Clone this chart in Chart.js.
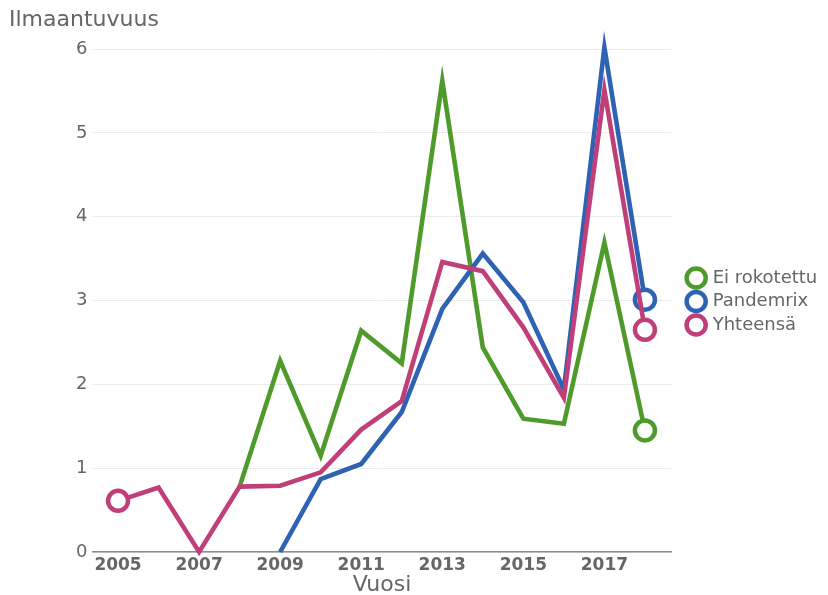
<!DOCTYPE html>
<html>
<head>
<meta charset="utf-8">
<script src="https://cdn.jsdelivr.net/npm/chart.js@4/dist/chart.umd.min.js"></script>
<style>
  html, body { margin: 0; padding: 0; background: #ffffff; }
  #wrap { width: 828px; height: 595px; position: relative; }
</style>
</head>
<body>
<div id="wrap"><canvas id="c" width="828" height="595"></canvas></div>
<script>
// ---- data ----
const years = [2005, 2006, 2007, 2008, 2009, 2010, 2011, 2012, 2013, 2014, 2015, 2016, 2017, 2018];
const xTickLabels = [2005, 2007, 2009, 2011, 2013, 2015, 2017];
const yTickLabels = [0, 1, 2, 3, 4, 5, 6];
const seriesNames = ['Ei rokotettu', 'Pandemrix', 'Yhteensä'];
const eiRokotettu = [null, null, null, 0.78, 2.28, 1.15, 2.64, 2.25, 5.62, 2.44, 1.59, 1.53, 3.69, 1.45];
const pandemrix   = [null, null, null, null, 0.00, 0.87, 1.05, 1.67, 2.90, 3.56, 2.98, 1.94, 6.02, 3.01];
const yhteensa    = [0.61, 0.77, 0.00, 0.78, 0.79, 0.95, 1.46, 1.80, 3.46, 3.35, 2.68, 1.84, 5.51, 2.65];
const yAxisTitle = 'Ilmaantuvuus';
const xAxisTitle = 'Vuosi';

const GREEN = '#4e9b2c';
const BLUE = '#2e62b2';
const PINK = '#c03f79';
const TEXT = '#666666';
const FONT = "'DejaVu Sans', sans-serif";

function toPoints(vals) {
  return years.map((yr, i) => ({ x: yr, y: vals[i] }));
}
function lastIndex(vals) {
  let k = -1;
  vals.forEach((v, i) => { if (v !== null) k = i; });
  return k;
}
function markerRadius(vals, withFirst) {
  const last = lastIndex(vals);
  return ctx => (ctx.dataIndex === last || (withFirst && ctx.dataIndex === 0)) ? 10 : 0;
}
function makeDataset(label, vals, color, order, withFirst) {
  return {
    label: label,
    data: toPoints(vals),
    borderColor: color,
    backgroundColor: '#ffffff',
    borderWidth: 4.6,
    pointRadius: markerRadius(vals, withFirst),
    pointHoverRadius: markerRadius(vals, withFirst),
    pointBackgroundColor: '#ffffff',
    pointBorderColor: color,
    pointBorderWidth: 4.5,
    pointStyle: 'circle',
    tension: 0,
    spanGaps: false,
    clip: false,
    order: order
  };
}

new Chart(document.getElementById('c'), {
  type: 'line',
  data: {
    datasets: [
      makeDataset(seriesNames[0], eiRokotettu, GREEN, 2, false),
      makeDataset(seriesNames[1], pandemrix, BLUE, 1, false),
      makeDataset(seriesNames[2], yhteensa, PINK, 0, true)
    ]
  },
  options: {
    responsive: false,
    animation: false,
    events: [],
    layout: { padding: { left: 9, right: 10, top: 0, bottom: 0 } },
    plugins: {
      tooltip: { enabled: false },
      title: {
        display: true,
        text: yAxisTitle,
        align: 'start',
        color: TEXT,
        font: { family: FONT, size: 22, weight: 'normal', lineHeight: 1 },
        padding: { top: 9, bottom: 18 }
      },
      legend: {
        position: 'right',
        align: 'center',
        title: {
          display: true,
          text: ' ',
          padding: 0,
          font: { family: FONT, size: 8, lineHeight: 1 }
        },
        labels: {
          usePointStyle: true,
          boxWidth: 15,
          boxHeight: 13.5,
          padding: 5.5,
          color: TEXT,
          font: { family: FONT, size: 18, lineHeight: 1 },
          sort: (a, b) => a.datasetIndex - b.datasetIndex
        }
      }
    },
    scales: {
      x: {
        type: 'linear',
        position: 'bottom',
        min: 2004.37,
        max: 2018.66,
        afterBuildTicks: s => { s.ticks = xTickLabels.map(v => ({ value: v })); },
        grid: { display: false, drawTicks: false },
        border: { display: true, color: '#8c8c8c', width: 1.5 },
        ticks: {
          color: TEXT,
          padding: 5,
          maxRotation: 0,
          autoSkip: false,
          font: { family: FONT, size: 17, weight: 'bold', lineHeight: 1 },
          callback: v => String(v)
        },
        title: {
          display: true,
          text: xAxisTitle,
          color: TEXT,
          font: { family: FONT, size: 22, lineHeight: 1 },
          padding: { top: -4.5, bottom: -1.5 }
        }
      },
      y: {
        type: 'linear',
        position: 'left',
        min: 0,
        max: 6,
        afterBuildTicks: s => { s.ticks = yTickLabels.map(v => ({ value: v })); },
        afterFit: s => { s.width = 83.5; },
        grid: { color: '#ebebeb', lineWidth: 1, drawTicks: false },
        border: { display: false },
        ticks: {
          color: TEXT,
          padding: 5,
          font: { family: FONT, size: 18, lineHeight: 1 },
          callback: v => String(v)
        }
      },
      gap: {
        type: 'linear',
        position: 'right',
        display: true,
        grid: { display: false, drawTicks: false },
        border: { display: false },
        ticks: { display: false },
        afterFit: s => { s.width = 11.5; }
      }
    }
  }
});
</script>
</body>
</html>
